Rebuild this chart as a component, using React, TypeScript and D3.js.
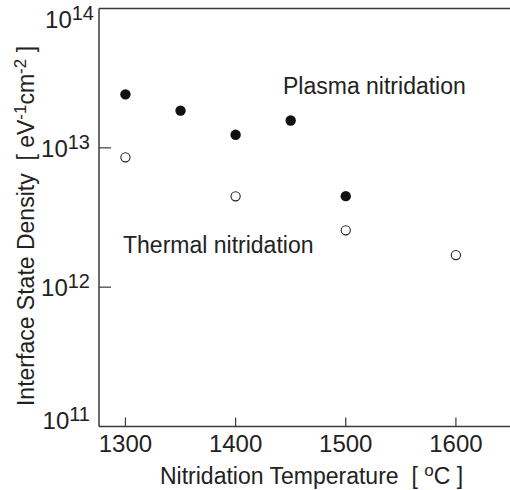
import React from "react";
import * as d3 from "d3";

const plasmaTemps = [1300, 1350, 1400, 1450, 1500];
const plasmaDensity = [2.42e13, 1.85e13, 1.24e13, 1.57e13, 4.5e12];
const thermalTemps = [1300, 1400, 1500, 1600];
const thermalDensity = [8.55e12, 4.49e12, 2.56e12, 1.7e12];
const xTicks = [1300, 1400, 1500, 1600];
const yTickExps = [11, 12, 13, 14];

const W = 510;
const H = 490;
const FONT = "'Liberation Sans', Arial, Helvetica, sans-serif";
const AX = "#3a3a3a";
const TXT = "#222";

export default function App() {
  const left = 99;
  const right = 511;
  const top = 8.5;
  const bottom = 426.5;
  const x = d3.scaleLinear().domain([1276, 1650]).range([left, right]);
  const y = d3.scaleLog().domain([1e11, 1e14]).range([bottom, top]);

  return (
    <svg
      width={W}
      height={H}
      style={{ position: "absolute", left: 0, top: 0, display: "block", background: "#fff" }}
      fontFamily={FONT}
    >
      {/* frame */}
      <line x1={left} x2={W} y1={top} y2={top} stroke={AX} strokeWidth={1.5} />
      <line x1={left} x2={W} y1={bottom} y2={bottom} stroke={AX} strokeWidth={1.5} />
      <line x1={left} x2={left} y1={top} y2={bottom} stroke={AX} strokeWidth={1.5} />

      {/* x ticks */}
      {xTicks.map((t) => (
        <g key={t}>
          <line x1={x(t)} x2={x(t)} y1={bottom} y2={bottom - 9} stroke={AX} strokeWidth={1.2} />
          <text x={x(t)} y={452} textAnchor="middle" fontSize={24} fill={TXT}>
            {t}
          </text>
        </g>
      ))}

      {/* y ticks */}
      {yTickExps.map((e) => {
        const yy = y(Math.pow(10, e));
        const base = Math.min(Math.max(yy + 9, top + 19), bottom + 2);
        return (
          <g key={e}>
            {e > 11 && e < 14 && (
              <line x1={left} x2={left + 12} y1={yy} y2={yy} stroke={AX} strokeWidth={1.2} />
            )}
            <text x={e === 14 ? 94 : 90} y={base} textAnchor="end" fontSize={24} fill={TXT}>
              10
              <tspan fontSize={20} dy={-8}>
                {e}
              </tspan>
            </text>
          </g>
        );
      })}

      {/* data */}
      {plasmaTemps.map((t, i) => (
        <circle key={"p" + i} cx={x(t)} cy={y(plasmaDensity[i])} r={5.2} fill="#111" />
      ))}
      {thermalTemps.map((t, i) => (
        <circle
          key={"t" + i}
          cx={x(t)}
          cy={y(thermalDensity[i])}
          r={4.6}
          fill="#fff"
          stroke="#222"
          strokeWidth={1.1}
        />
      ))}

      {/* annotations */}
      <text x={283} y={94} fontSize={23} fill={TXT}>
        Plasma nitridation
      </text>
      <text x={123} y={252.5} fontSize={23} fill={TXT}>
        Thermal nitridation
      </text>

      {/* axis titles */}
      <text x={311.5} y={484} textAnchor="middle" fontSize={23} fill={TXT} style={{ whiteSpace: "pre" }}>
        {"Nitridation Temperature  [ "}
        <tspan fontSize={17} dy={-8}>o</tspan>
        <tspan dy={8}>{"C ]"}</tspan>
      </text>
      <text
        transform={`translate(34, 226) rotate(-90)`}
        textAnchor="middle"
        fontSize={23}
        fill={TXT}
        style={{ whiteSpace: "pre" }}
      >
        {"Interface State Density  [ eV"}
        <tspan fontSize={17} dy={-8}>-1</tspan>
        <tspan dy={8}>cm</tspan>
        <tspan fontSize={17} dy={-8}>-2</tspan>
        <tspan dy={8}>{" ]"}</tspan>
      </text>
    </svg>
  );
}
